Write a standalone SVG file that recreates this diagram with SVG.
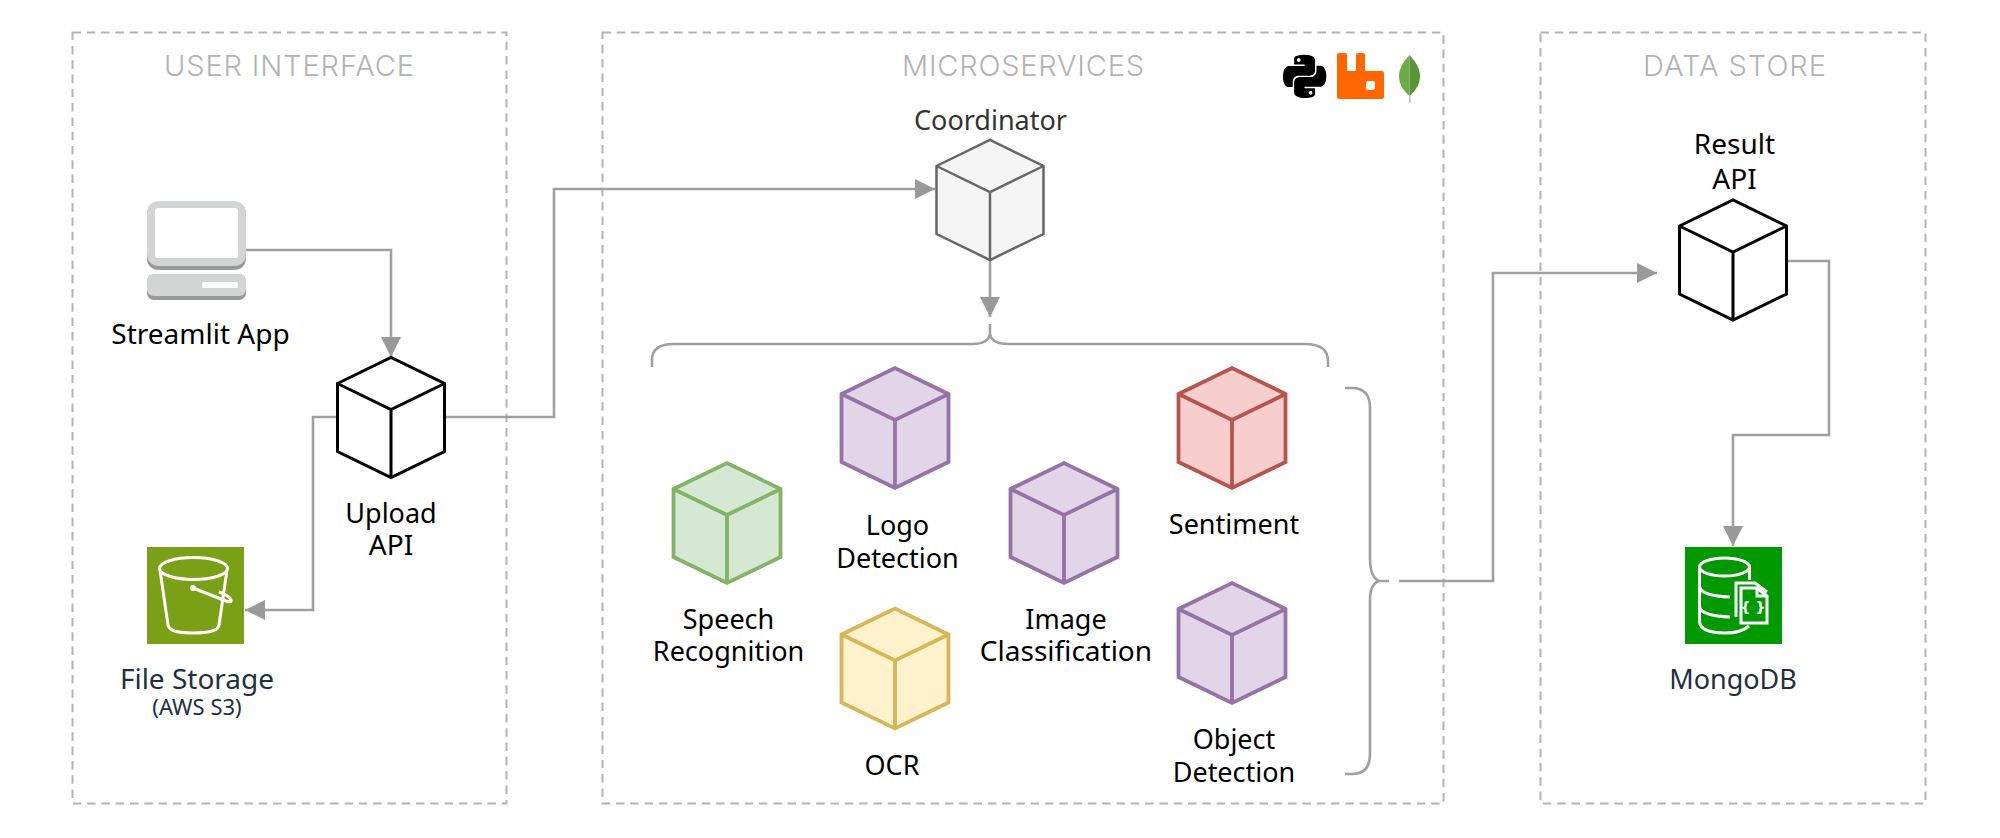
<svg xmlns="http://www.w3.org/2000/svg" width="2000" height="838" viewBox="0 0 2000 838">
<style>
.zone{fill:none;stroke:#b3b3b3;stroke-width:2;stroke-dasharray:8.500 5.800}
.title{font-family:"Inter","Open Sans",sans-serif;font-weight:300;font-size:29px;fill:#b3b3b3;text-anchor:middle}
.lab{font-family:"Noto Sans","Open Sans",sans-serif;font-size:27px;fill:#000;text-anchor:middle}
.big{font-size:28px}
.dark{fill:#232f3e}
.con{fill:none;stroke:#a0a0a0;stroke-width:2.600}
.w{fill:none;stroke:#fff;stroke-width:3}
.sw{stroke-width:3.800}
</style>
<defs>
<marker id="arr" markerUnits="userSpaceOnUse" markerWidth="21" markerHeight="21" refX="20" refY="10.500" orient="auto"><path d="M0 0.500L20 10.500L0 20.500Z" fill="#999"/></marker>
<g id="cubeShape"><path d="M0 26L54 0L108 26L108 94L54 120L0 94Z"/><path d="M0 26L54 52L108 26M54 52V120" fill="none"/></g>
<g id="cubeSm"><path d="M0 26L53.500 0L107 26L107 94L53.500 120L0 94Z"/><path d="M0 26L53.500 52L107 26M53.500 52V120" fill="none"/></g>
</defs>
<rect width="2000" height="838" fill="#fff"/>
<g id="zones">
<rect class="zone" x="72.500" y="32.500" width="434" height="771"/>
<rect class="zone" x="602.500" y="32.500" width="841" height="771"/>
<rect class="zone" x="1540.500" y="32.500" width="385" height="771"/>
<text class="title" x="289" y="76" textLength="250">USER INTERFACE</text>
<text class="title" x="1023" y="76" textLength="242">MICROSERVICES</text>
<text class="title" x="1734.500" y="76" textLength="183">DATA STORE</text>
</g>
<g id="connectors">
<path class="con" d="M246 250H391V357" marker-end="url(#arr)"/>
<path class="con" d="M337 417H313V610H245" marker-end="url(#arr)"/>
<path class="con" d="M445 417H554V189H935" marker-end="url(#arr)"/>
<path class="con" d="M990 259V317" marker-end="url(#arr)"/>
<path class="con" d="M652 367V360Q652 344 674 344H972Q988 344 990 334V324M990 334Q992 344 1008 344H1305Q1328 344 1328 361V367"/>
<path class="con" d="M1345 388H1352Q1370 388 1370 408V558Q1370 577 1379 581H1389M1379 581Q1370 584 1370 600V754Q1370 774 1352 774H1345"/>
<path class="con" d="M1399 581H1493V273H1657" marker-end="url(#arr)"/>
<path class="con" d="M1787 261H1829V435H1733V546" marker-end="url(#arr)"/>
</g>
<g id="streamlit">
<path d="M147 215Q147 202 160 202H233Q246 202 246 215V257Q246 270 233 270H160Q147 270 147 257Z" fill="#999"/>
<path d="M147 215Q147 201 160 201H233Q246 201 246 215V253Q246 266 233 266H160Q147 266 147 253Z" fill="#d3d5d5"/>
<rect x="155" y="208" width="83" height="50" rx="3" fill="#fff"/>
<rect x="147" y="274" width="99" height="26" rx="7" fill="#999"/>
<rect x="147" y="274" width="99" height="22" rx="7" fill="#d3d5d5"/>
<rect x="202" y="282" width="36" height="6" rx="2" fill="#fff"/>
<text class="lab big" x="200.500" y="344">Streamlit App</text>
</g>
<g id="upload-api">
<use href="#cubeSm" x="337.500" y="357.500" fill="#fff" stroke="#000" stroke-width="3"/>
<text class="lab" x="391" y="523">Upload</text>
<text class="lab big" x="391" y="555">API</text>
</g>
<g id="file-storage">
<rect x="147" y="547" width="97" height="97" fill="#7aa116"/>
<ellipse class="w" cx="193.500" cy="568.500" rx="34" ry="11"/>
<path class="w" d="M160 570L168 625Q169 633 193 633Q218 633 219 625L227 570"/>
<path class="w" d="M193 588L226 601Q232 603 231 600Q230 596 219 592" stroke-width="2.500"/>
<circle cx="193" cy="588" r="3" fill="#fff"/>
<text class="lab big dark" x="197" y="689">File Storage</text>
<text class="lab dark" x="197" y="715" style="font-size:22px">(AWS S3)</text>
</g>
<g id="tech-icons">
<path transform="translate(1283 54.800) scale(1.800)" fill="#000" d="M14.250.18l.9.2.73.26.59.3.45.32.34.34.25.34.16.33.1.3.04.26.02.2-.01.13V8.500l-.05.63-.13.55-.21.46-.26.38-.3.31-.33.25-.35.19-.35.14-.33.1-.3.07-.26.04-.21.02H8.770l-.69.05-.59.14-.5.22-.41.27-.33.32-.27.35-.2.36-.15.37-.1.35-.07.32-.04.27-.02.21v3.060H3.170l-.21-.03-.28-.07-.32-.12-.35-.18-.36-.26-.36-.36-.35-.46-.32-.59-.28-.73-.21-.88-.14-1.050-.05-1.230.06-1.220.16-1.040.24-.87.32-.71.36-.57.4-.44.42-.33.42-.24.4-.16.36-.1.32-.05.24-.01h.16l.06.01h8.160v-.83H6.180l-.01-2.750-.02-.37.05-.34.11-.31.17-.28.25-.26.31-.23.38-.2.44-.18.51-.15.58-.12.64-.1.71-.06.77-.04.84-.02 1.270.05zm-6.300 1.980l-.23.33-.08.41.08.41.23.34.33.22.41.09.41-.09.33-.22.23-.34.08-.41-.08-.41-.23-.33-.33-.22-.41-.09-.41.09zm13.090 3.950l.28.06.32.12.35.18.36.27.36.35.35.47.32.59.28.73.21.88.14 1.040.05 1.230-.06 1.230-.16 1.040-.24.86-.32.71-.36.57-.4.45-.42.33-.42.24-.4.16-.36.09-.32.05-.24.02-.16-.01h-8.220v.82h5.840l.01 2.760.02.36-.05.34-.11.31-.17.29-.25.25-.31.24-.38.2-.44.17-.51.15-.58.13-.64.09-.71.07-.77.04-.84.01-1.270-.04-1.070-.14-.9-.2-.73-.25-.59-.3-.45-.33-.34-.34-.25-.34-.16-.33-.1-.3-.04-.25-.02-.2.01-.13v-5.340l.05-.64.13-.54.21-.46.26-.38.3-.32.33-.24.35-.2.35-.14.33-.1.3-.06.26-.04.21-.02.13-.01h5.840l.69-.05.59-.14.5-.21.41-.28.33-.32.27-.35.2-.36.15-.36.1-.35.07-.32.04-.28.02-.21V6.070h2.090l.14.01zm-6.470 14.250l-.23.33-.08.41.08.41.23.33.33.23.41.08.41-.08.33-.23.23-.33.08-.41-.08-.41-.23-.33-.33-.23-.41-.08-.41.08z"/>
<path d="M1337 55Q1337 53 1339 53H1345Q1347 53 1347 55V71H1356V55Q1356 53 1358 53H1363Q1365 53 1365 55V71H1382Q1384 71 1384 73V97Q1384 99 1382 99H1339Q1337 99 1337 97Z" fill="#f60"/>
<rect x="1366" y="81" width="9" height="9" rx="2" fill="#fff"/>
<path d="M1409.500 55C1402 63 1399 70 1399 76C1399 86 1405 92 1409.500 96Z" fill="#6cac48"/>
<path d="M1409.500 55C1417 63 1420 70 1420 76C1420 86 1414 92 1409.500 96Z" fill="#589636"/>
<rect x="1409" y="96" width="1.500" height="7" fill="#c2bfbf"/>
</g>
<g id="coordinator">
<text class="lab" x="990.500" y="130" style="fill:#333">Coordinator</text>
<use href="#cubeSm" x="936.500" y="140" fill="#f5f5f5" stroke="#666" stroke-width="2.500"/>
</g>
<g id="speech">
<use href="#cubeSm" class="sw" x="673.500" y="463" fill="#d5e8d4" stroke="#82b366"/>
<text class="lab" x="728.500" y="629">Speech</text>
<text class="lab" x="728.500" y="661">Recognition</text>
</g>
<g id="logo">
<use href="#cubeSm" class="sw" x="841.500" y="368" fill="#e1d5e7" stroke="#9673a6"/>
<text class="lab" x="897.500" y="535">Logo</text>
<text class="lab" x="897.500" y="568">Detection</text>
</g>
<g id="ocr">
<use href="#cubeSm" class="sw" x="841.500" y="608.500" fill="#fff2cc" stroke="#d6b656"/>
<text class="lab" x="892" y="775">OCR</text>
</g>
<g id="image-classification">
<use href="#cubeSm" class="sw" x="1010.500" y="463" fill="#e1d5e7" stroke="#9673a6"/>
<text class="lab" x="1066" y="629">Image</text>
<text class="lab big" x="1066" y="661">Classification</text>
</g>
<g id="sentiment">
<use href="#cubeSm" class="sw" x="1178.500" y="368" fill="#f8cecc" stroke="#b85450"/>
<text class="lab" x="1234" y="534">Sentiment</text>
</g>
<g id="object-detection">
<use href="#cubeSm" class="sw" x="1178.500" y="583" fill="#e1d5e7" stroke="#9673a6"/>
<text class="lab" x="1234" y="749">Object</text>
<text class="lab" x="1234" y="782">Detection</text>
</g>
<g id="result-api">
<text class="lab big" x="1734.500" y="154">Result</text>
<text class="lab big" x="1734.500" y="189">API</text>
<use href="#cubeSm" x="1679.500" y="200" fill="#fff" stroke="#000" stroke-width="3"/>
</g>
<g id="mongodb">
<rect x="1685" y="547" width="97" height="97" fill="#009900"/>
<ellipse class="w" cx="1724.500" cy="567" rx="25" ry="9"/>
<path class="w" d="M1699.500 567V622Q1701 633 1725 633Q1741 633 1749 626M1699.500 587Q1702 596 1730 597M1699.500 607Q1702 616 1730 617M1749.500 567V580"/>
<path class="w" d="M1736 617V583H1755L1767 592"/>
<path class="w" d="M1741 623V588H1757L1767 596V623Z" fill="#009900"/>
<path class="w" d="M1757 588V596H1767" stroke-width="2"/>
<text x="1753" y="612" style="font-family:'DejaVu Sans',sans-serif;font-size:14px;font-weight:700;fill:#fff;text-anchor:middle">{ }</text>
<text class="lab dark" x="1733" y="689">MongoDB</text>
</g>
</svg>
